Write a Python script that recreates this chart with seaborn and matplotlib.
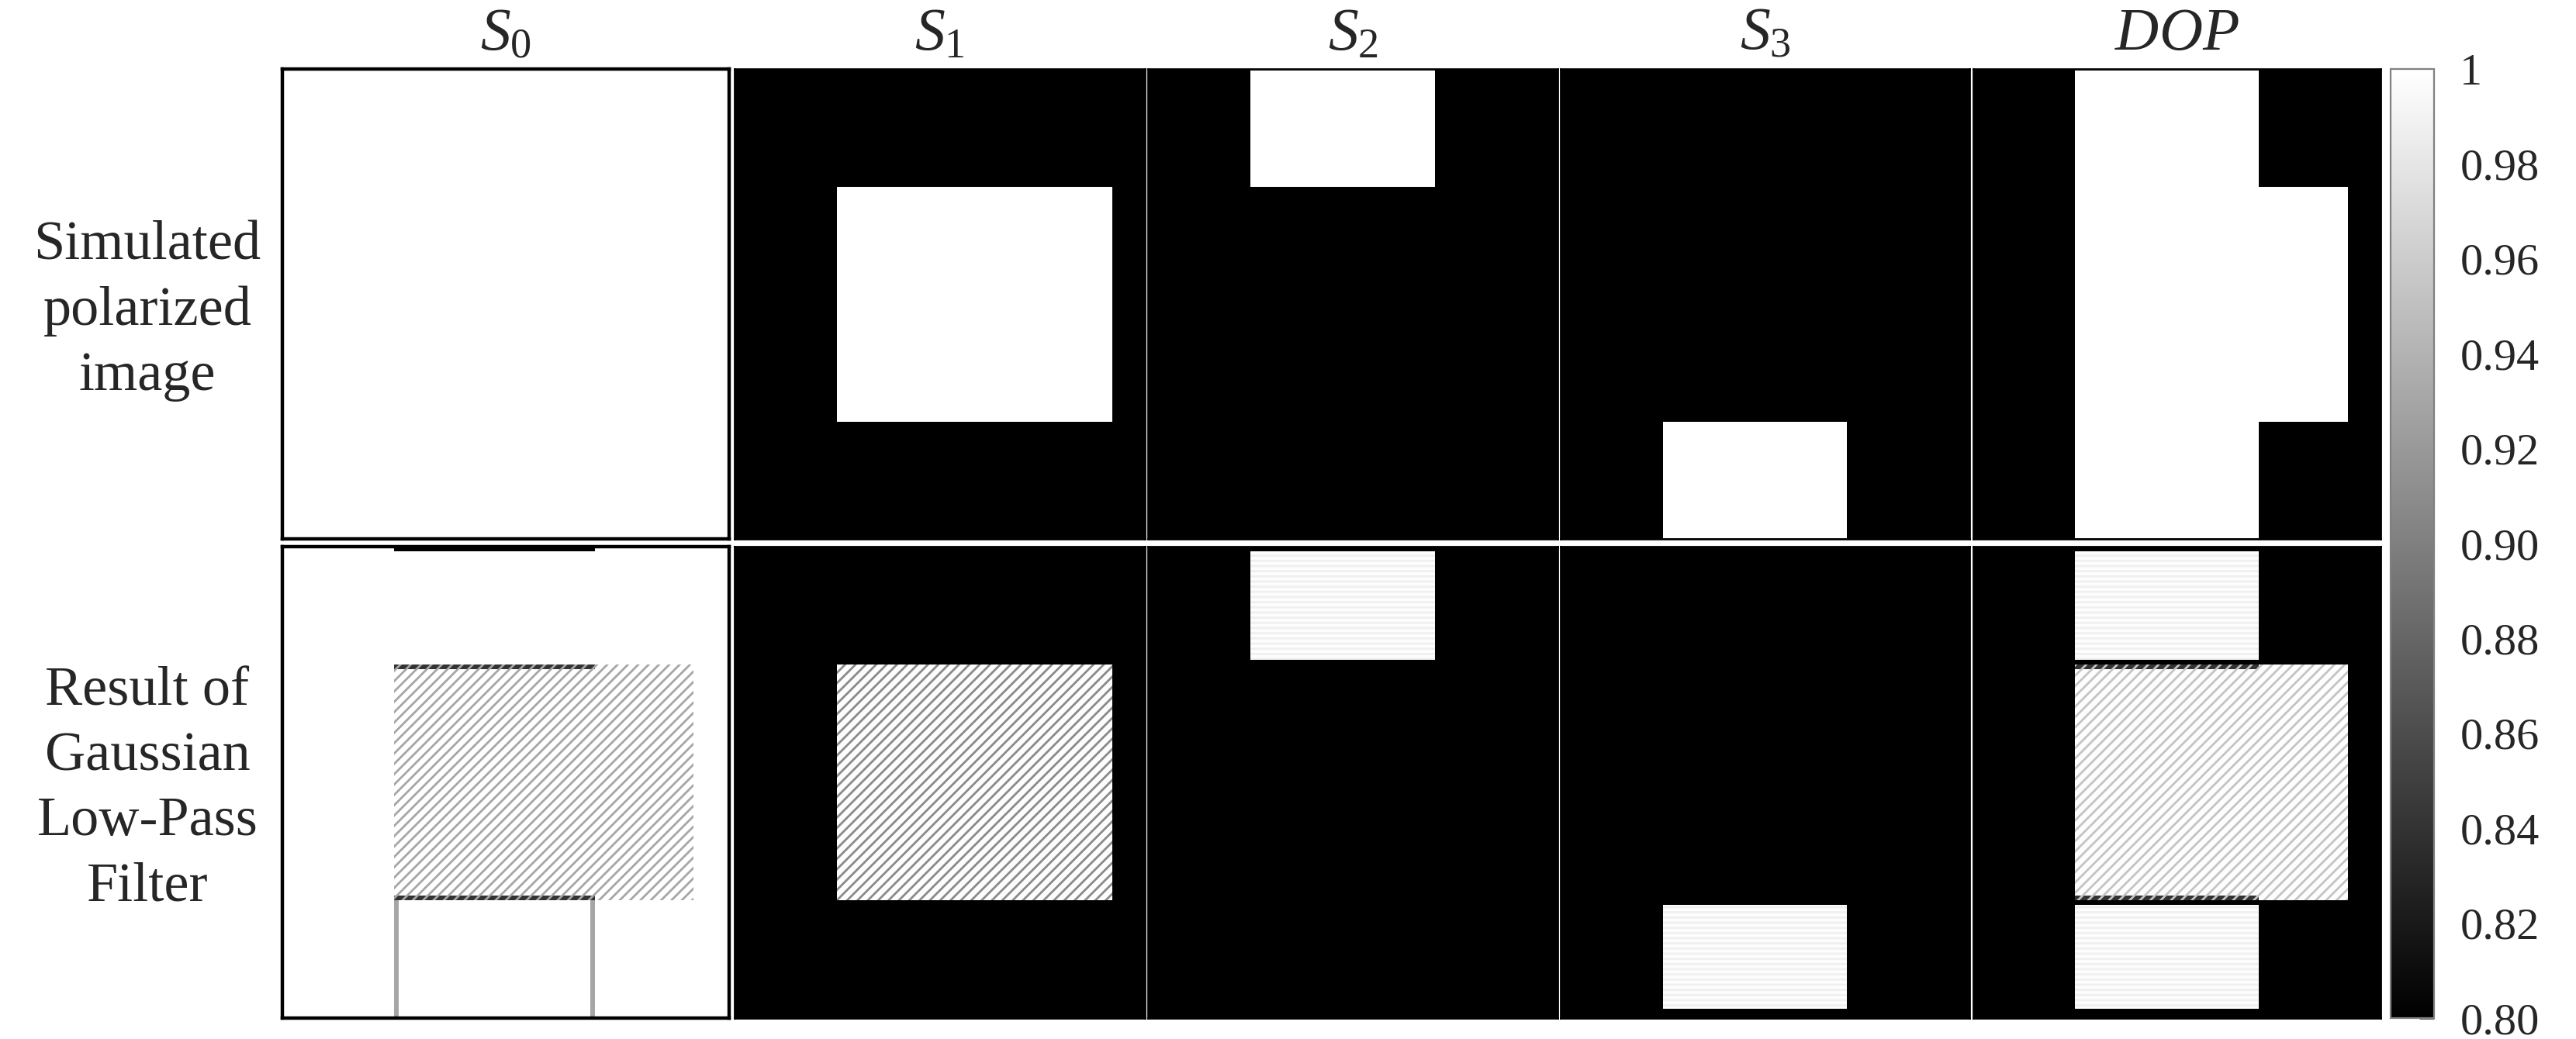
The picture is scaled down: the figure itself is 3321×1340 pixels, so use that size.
import numpy as np
import matplotlib
matplotlib.use('Agg')
import matplotlib.pyplot as plt
from matplotlib.patches import Rectangle
import seaborn as sns

# === Dados (grade de 100x100 pixels por painel) ===
GRID = 100
titles = [r'$S_0$', r'$S_1$', r'$S_2$', r'$S_3$', r'$DOP$']
row_labels = ['Simulated\npolarized\nimage', 'Result of\nGaussian\nLow-Pass\nFilter']

# retangulos: [linha_ini, linha_fim, col_ini, col_fim]
rect_s1 = [25, 75, 25, 92]
rect_s2 = [0, 25, 25, 70]
rect_s3 = [75, 100, 25, 70]
# depois do filtro os blocos encostados na borda ficam um pouco menores
rect_s2_filt = [1, 24, 25, 70]
rect_s3_filt = [76, 98, 25, 70]

dark = 0.0
bright = 1.0
filt_bright = 0.998
s0_filt_base = 1.0
s0_top_line = 0.80      # linha escura no topo de S0 filtrado
s0_side_line = 0.93     # linhas verticais cinzas do bloco inferior
edge_line = 0.84        # fronteira pontilhada entre blocos

cbar_ticks = [0.80, 0.82, 0.84, 0.86, 0.88, 0.90, 0.92, 0.94, 0.96, 0.98, 1.00]
cbar_labels = ['0.80', '0.82', '0.84', '0.86', '0.88', '0.90', '0.92', '0.94', '0.96', '0.98', '1']


def fill(img, rect, val):
    r0, r1, c0, c1 = rect
    img[r0:r1, c0:c1] = val
    return img


def blank(val):
    return np.full((GRID, GRID), val)


# linha 1: imagem simulada
sim = [
    blank(bright),
    fill(blank(dark), rect_s1, bright),
    fill(blank(dark), rect_s2, bright),
    fill(blank(dark), rect_s3, bright),
    fill(fill(fill(blank(dark), rect_s1, bright), rect_s2, bright), rect_s3, bright),
]

# linha 2: resultado do filtro gaussiano
s0_f = blank(s0_filt_base)
s0_f[0, rect_s2[2]:rect_s2[3]] = s0_top_line
s0_f[rect_s3[0]:, rect_s3[2]] = s0_side_line
s0_f[rect_s3[0]:, rect_s3[3] - 1] = s0_side_line
s0_f[rect_s1[0], rect_s2[2]:rect_s2[3]] = edge_line
s0_f[rect_s1[1] - 1, rect_s3[2]:rect_s3[3]] = edge_line

dop_f = blank(dark)
fill(dop_f, rect_s2_filt, filt_bright)
fill(dop_f, rect_s1, filt_bright)
fill(dop_f, rect_s3_filt, filt_bright)
dop_f[rect_s1[0], rect_s2[2]:rect_s2[3]] = edge_line
dop_f[rect_s1[1] - 1, rect_s3[2]:rect_s3[3]] = edge_line

filt = [
    s0_f,
    fill(blank(dark), rect_s1, filt_bright),
    fill(blank(dark), rect_s2_filt, filt_bright),
    fill(blank(dark), rect_s3_filt, filt_bright),
    dop_f,
]

# hachura diagonal (artefato do filtro) por painel da linha 2
diag_hatch = {0: (rect_s1, '#a6a6a6'), 1: (rect_s1, '#8a8a8a'), 4: (rect_s1, '#c4c4c4')}
flat_hatch = {2: [rect_s2_filt], 3: [rect_s3_filt], 4: [rect_s2_filt, rect_s3_filt]}

# === Estilo ===
sns.set_style('white')
plt.rcParams['font.family'] = 'serif'
plt.rcParams['font.serif'] = ['Liberation Serif', 'Times New Roman', 'DejaVu Serif']
plt.rcParams['mathtext.fontset'] = 'custom'
plt.rcParams['mathtext.rm'] = 'Liberation Serif'
plt.rcParams['mathtext.it'] = 'Liberation Serif:italic'
plt.rcParams['hatch.linewidth'] = 1.0

W, H = 3321, 1340
fig = plt.figure(figsize=(W / 200, H / 200), dpi=200)

# bordas dos paineis em pixels
col_edges = [(364, 940), (947, 1476), (1480, 2008), (2012, 2539), (2544, 3069)]
row_edges = [(89, 695), (705, 1313)]
cbar_edges = (3082, 3138)


def px_axes(x0, x1, y0, y1):
    return fig.add_axes([x0 / W, 1 - y1 / H, (x1 - x0) / W, (y1 - y0) / H])


cax = px_axes(cbar_edges[0], cbar_edges[1], row_edges[0][0], row_edges[1][1])

for r, images in enumerate([sim, filt]):
    y0, y1 = row_edges[r]
    for c, img in enumerate(images):
        x0, x1 = col_edges[c]
        ax = px_axes(x0, x1, y0, y1)
        last = (r == 1 and c == 4)
        sns.heatmap(img, ax=ax, cmap='gray', vmin=0.8, vmax=1.0,
                    xticklabels=False, yticklabels=False,
                    cbar=last, cbar_ax=cax if last else None)
        if r == 1 and c in diag_hatch:
            (rr0, rr1, cc0, cc1), hc = diag_hatch[c]
            ax.add_patch(Rectangle((cc0, rr0), cc1 - cc0, rr1 - rr0, fill=False,
                                   hatch='/////', edgecolor=hc, lw=0))
        if r == 1 and c in flat_hatch:
            for rr0, rr1, cc0, cc1 in flat_hatch[c]:
                ax.add_patch(Rectangle((cc0, rr0), cc1 - cc0, rr1 - rr0, fill=False,
                                       hatch='-----', edgecolor='#f0f0f0', lw=0))
        for sp in ax.spines.values():
            sp.set_visible(True)
            sp.set_color('black')
            sp.set_linewidth(1.6 if c == 0 else 1.0)
        if r == 0:
            ax.set_title(titles[c], fontsize=28, pad=9)

for r, label in enumerate(row_labels):
    y0, y1 = row_edges[r]
    fig.text(190 / W, 1 - ((y0 + y1) / 2 + 9) / H, label, ha='center', va='center',
             fontsize=26, linespacing=1.38)

# barra de cores
cbar = fig.axes[-1].collections[0].colorbar
cbar.set_ticks(cbar_ticks)
cbar.set_ticklabels(cbar_labels)
cbar.outline.set_edgecolor('#808080')
cbar.outline.set_linewidth(0.8)
cax.tick_params(direction='in', length=7, width=1, color='#444444',
                labelsize=21, pad=12, right=True)

plt.savefig('out.png', dpi=200)
